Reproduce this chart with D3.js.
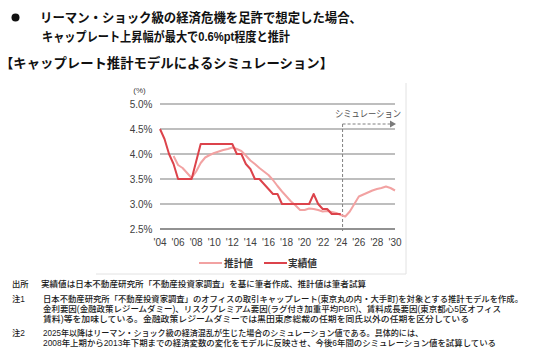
<!DOCTYPE html>
<html><head><meta charset="utf-8">
<script src="https://cdn.jsdelivr.net/npm/d3@7/dist/d3.min.js"></script>
<style>
html,body{margin:0;padding:0;background:#fff;}
svg{display:block;}
</style></head>
<body>
<svg id="c" width="536" height="354"></svg>
<script>
// ---- data ----
const actualYears = [2004,2004.5,2005,2005.5,2006,2006.5,2007,2007.5,2008,2008.5,2009,2009.5,2010,2010.5,2011,2011.5,2012,2012.5,2013,2013.5,2014,2014.5,2015,2015.5,2016,2016.5,2017,2017.5,2018,2018.5,2019,2019.5,2020,2020.5,2021,2021.5,2022,2022.5,2023,2023.5,2024];
const actualValues = [4.5,4.3,4.0,3.8,3.5,3.5,3.5,3.5,3.85,4.2,4.2,4.2,4.2,4.2,4.2,4.2,4.2,4.0,4.0,3.8,3.7,3.5,3.5,3.4,3.3,3.2,3.2,3.0,3.0,3.0,3.0,3.0,3.0,3.0,3.2,3.0,2.9,2.9,2.8,2.8,2.8];
const estYears = [2005.5,2006,2006.5,2007,2007.5,2008,2008.5,2009,2009.5,2010,2010.5,2011,2011.5,2012,2012.5,2013,2013.5,2014,2014.5,2015,2015.5,2016,2016.5,2017,2017.5,2018,2018.5,2019,2019.5,2020,2020.5,2021,2021.5,2022,2022.5,2023,2023.5,2024,2024.5,2025,2025.5,2026,2026.5,2027,2027.5,2028,2028.5,2029,2029.5,2030];
const estValues = [3.96,3.78,3.72,3.62,3.52,3.65,3.82,3.93,3.98,4.02,4.05,4.08,4.10,4.13,4.10,4.06,3.97,3.87,3.80,3.72,3.65,3.58,3.48,3.36,3.25,3.15,3.05,2.97,2.88,2.88,2.91,2.90,2.88,2.85,2.86,2.84,2.82,2.78,2.75,2.85,3.00,3.15,3.19,3.23,3.27,3.30,3.32,3.35,3.32,3.27];
const yTicks = [2.5,3.0,3.5,4.0,4.5,5.0];
const xTickYears = [2004,2006,2008,2010,2012,2014,2016,2018,2020,2022,2024,2026,2028,2030];
const xTickLabels = ["'04","'06","'08","'10","'12","'14","'16","'18","'20","'22","'24","'26","'28","'30"];
const simStart = 2024.2;
const seriesNames = ["推計値","実績値"];
const titleLines = ["リーマン・ショック級の経済危機を足許で想定した場合、","キャップレート上昇幅が最大で0.6%pt程度と推計"];
const subTitle = "【キャップレート推計モデルによるシミュレーション】";
const simLabel = "シミュレーション";
const notes = [
  {label:"出所", lines:["実績値は日本不動産研究所「不動産投資家調査」を基に筆者作成、推計値は筆者試算"]},
  {label:"注1", lines:["日本不動産研究所「不動産投資家調査」のオフィスの取引キャップレート(東京丸の内・大手町)を対象とする推計モデルを作成。","金利要因(金融政策レジームダミー)、リスクプレミアム要因(ラグ付き加重平均PBR)、賃料成長要因(東京都心5区オフィス","賃料)等を加味している。金融政策レジームダミーでは黒田東彦総裁の任期を同氏以外の任期を区分している"]},
  {label:"注2", lines:["2025年以降はリーマン・ショック級の経済混乱が生じた場合のシミュレーション値である。具体的には、","2008年上期から2013年下期までの経済変数の変化をモデルに反映させ、今後6年間のシミュレーション値を試算している"]}
];

// ---- layout ----
const svg = d3.select("#c");
const JP = "'Liberation Sans','Noto Sans CJK JP',sans-serif";
const LAT = "'Liberation Sans',Arial,sans-serif";
const colActual = "#dc434b", colEst = "#f2a2a2";

const x = d3.scaleLinear().domain([2004,2030]).range([160,395]);
const y = d3.scaleLinear().domain([2.5,5.0]).range([229,104]);

// title
svg.append("circle").attr("cx",15.5).attr("cy",17.5).attr("r",4).attr("fill","#111");
const tl = [{x:40,y:22,w:322},{x:42,y:41,w:248}];
titleLines.forEach((t,i)=>{
  svg.append("text").attr("x",tl[i].x).attr("y",tl[i].y).attr("font-family",JP).attr("font-weight","bold")
    .attr("font-size",12.8).attr("fill","#111").attr("textLength",tl[i].w).attr("lengthAdjust","spacingAndGlyphs").text(t);
});
svg.append("text").attr("x",0).attr("y",67.5).attr("font-family",JP).attr("font-weight","bold")
  .attr("font-size",13.2).attr("fill","#111").attr("textLength",333).attr("lengthAdjust","spacingAndGlyphs").text(subTitle);

// box edges
svg.append("line").attr("x1",406).attr("x2",406).attr("y1",83).attr("y2",274).attr("stroke","#e2e2e2").attr("stroke-width",1);
svg.append("line").attr("x1",96).attr("x2",406).attr("y1",274).attr("y2",274).attr("stroke","#e2e2e2").attr("stroke-width",1);

// grid
const g = svg.append("g");
g.selectAll("line.grid").data(yTicks).enter().append("line")
  .attr("x1",x(2004)).attr("x2",x(2030)).attr("y1",d=>y(d)).attr("y2",d=>y(d))
  .attr("stroke",d=>d===2.5?"#6e6e6e":"#a8a8a8").attr("stroke-width",1.5);

// y axis labels
g.selectAll("text.yl").data(yTicks).enter().append("text")
  .attr("x",152.5).attr("y",d=>y(d)+3.6).attr("text-anchor","end")
  .attr("font-family",LAT).attr("font-size",10).attr("fill","#404040").text(d=>d.toFixed(1)+"%");
svg.append("text").attr("x",139.5).attr("y",93).attr("text-anchor","middle").attr("font-family",LAT)
  .attr("font-size",8).attr("fill","#404040").text("(%)");

// x axis labels
g.selectAll("text.xl").data(xTickYears).enter().append("text")
  .attr("x",d=>x(d)).attr("y",245.5).attr("text-anchor","middle")
  .attr("font-family",LAT).attr("font-size",10).attr("fill","#404040").text((d,i)=>xTickLabels[i]);

// simulation markers
svg.append("line").attr("x1",x(simStart)).attr("x2",x(simStart)).attr("y1",124).attr("y2",231)
  .attr("stroke","#808080").attr("stroke-width",1).attr("stroke-dasharray","3,2");
svg.append("line").attr("x1",x(simStart)).attr("x2",x(2030)-4).attr("y1",124).attr("y2",124)
  .attr("stroke","#808080").attr("stroke-width",1).attr("stroke-dasharray","3,2");
svg.append("path").attr("d",`M${x(2030)-5},120.5 L${x(2030)+1},124 L${x(2030)-5},127.5 Z`).attr("fill","#7a7a7a");
svg.append("text").attr("x",335).attr("y",116.5).attr("font-family",JP)
  .attr("font-size",9.5).attr("fill","#505050").attr("textLength",66).attr("lengthAdjust","spacingAndGlyphs").text(simLabel);

// lines
const line = d3.line().x(d=>x(d[0])).y(d=>y(d[1]));
svg.append("path").datum(estYears.map((yr,i)=>[yr,estValues[i]])).attr("d",line)
  .attr("fill","none").attr("stroke",colEst).attr("stroke-width",2).attr("stroke-linejoin","round");
svg.append("path").datum(actualYears.map((yr,i)=>[yr,actualValues[i]])).attr("d",line)
  .attr("fill","none").attr("stroke",colActual).attr("stroke-width",2).attr("stroke-linejoin","round");

// legend
const leg = [{x1:199,x2:222,tx:224,c:colEst},{x1:264,x2:287,tx:288,c:colActual}];
leg.forEach((l,i)=>{
  svg.append("line").attr("x1",l.x1).attr("x2",l.x2).attr("y1",263).attr("y2",263).attr("stroke",l.c).attr("stroke-width",2);
  svg.append("text").attr("x",l.tx).attr("y",266.5).attr("font-family",JP).attr("font-weight","bold")
    .attr("font-size",9.8).attr("fill","#333").attr("textLength",29).attr("lengthAdjust","spacingAndGlyphs").text(seriesNames[i]);
});

// notes
const noteY = [[286.5],[302,312,321.5],[336,345.5]];
const noteW = [[325],[480,458,426],[380,453]];
const noteX = [41,43,43];
notes.forEach((n,i)=>{
  svg.append("text").attr("x",12).attr("y",noteY[i][0]).attr("font-family",JP).attr("font-size",8.3).attr("font-weight",500).attr("fill","#1a1a1a").text(n.label);
  n.lines.forEach((t,j)=>{
    svg.append("text").attr("x",noteX[i]).attr("y",noteY[i][j]).attr("font-family",JP).attr("font-size",8.3).attr("font-weight",500)
      .attr("fill","#1a1a1a").attr("textLength",noteW[i][j]).attr("lengthAdjust","spacingAndGlyphs").text(t);
  });
});
</script>
</body></html>
